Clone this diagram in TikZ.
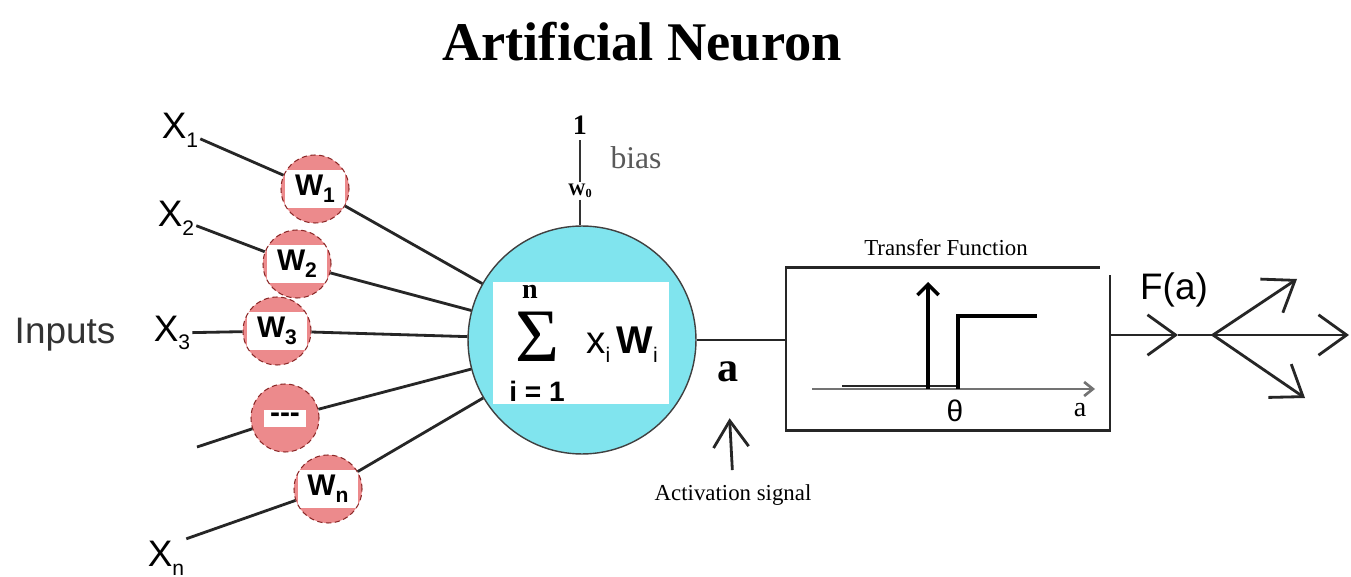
\documentclass[tikz,border=0pt]{standalone}
\usepackage{fontspec}
\setmainfont{Liberation Serif}
\setsansfont{Liberation Sans}
\usetikzlibrary{arrows.meta}

\definecolor{bodycyan}{RGB}{128,228,238}
\definecolor{wpink}{RGB}{236,138,140}
\definecolor{wred}{RGB}{140,40,40}

\newcommand{\lowidx}[1]{\raisebox{-0.45ex}{\fontsize{12}{12}\selectfont #1}}

\tikzset{
    sanslab/.style={font=\sffamily\fontsize{21}{21}\selectfont, inner sep=1pt},
    weight/.style={circle, minimum size=1.36cm, inner sep=0pt, fill=wpink, draw=wred,
        densely dashed, line width=0.6pt, font=\sffamily\bfseries\fontsize{17}{17}\selectfont,
        path picture={\fill[white] ([xshift=0.08cm,yshift=0.3cm]path picture bounding box.south west)
            rectangle ([xshift=-0.08cm,yshift=-0.3cm]path picture bounding box.north east);}},
    dotweight/.style={weight,
        path picture={\fill[white] ([xshift=-0.42cm,yshift=-0.17cm]path picture bounding box.center)
            rectangle ([xshift=0.42cm,yshift=0.17cm]path picture bounding box.center);}},
    neuron/.style={circle, minimum size=4.56cm, fill=bodycyan, draw=black!75, line width=0.8pt},
    sumbox/.style={rectangle, minimum width=3.54cm, minimum height=2.46cm, fill=white},
    wire/.style={line width=1.6pt, black!85},
    thinwire/.style={line width=1pt, black!80},
    outtip/.style={-{Straight Barb[length=16pt,width=23pt]}},
    uptip/.style={-{Straight Barb[length=15pt,width=20pt]}},
    smallserif/.style={font=\fontsize{13}{13}\selectfont, inner sep=1pt}
}

\begin{document}
\begin{tikzpicture}[x=0.02cm,y=-0.02cm]
        \useasboundingbox[fill=white] (0,0) rectangle (1351,577);

        %title
        \node[font=\bfseries\fontsize{31}{31}\selectfont] (title) at (642,42) {Artificial Neuron};

        %inputs
        \node[sanslab, text=black!80] (inputs) at (65,335) {Inputs};
        \node[sanslab] (x1) at (180,130) {X\lowidx{1}};
        \node[sanslab] (x2) at (176,218) {X\lowidx{2}};
        \node[sanslab] (x3) at (172,333) {X\lowidx{3}};
        \node[sanslab] (xn) at (166,558) {X\lowidx{n}};
        \coordinate (xd) at (197,447);

        %weights
        \node[weight] (w1) at (315,189) {W\lowidx{1}};
        \node[weight] (w2) at (297,264) {W\lowidx{2}};
        \node[weight] (w3) at (277,331) {W\lowidx{3}};
        \node[dotweight] (wd) at (285,418) {-{}-{}-};
        \node[weight] (wn) at (328,489) {W\lowidx{n}};

        %neuron
        \node[neuron] (neuron) at (582,340) {};
        \node[sumbox] (sumbox) at (581,343) {};
        \node[inner sep=0pt, font=\fontsize{43}{43}\selectfont] (sigma) at (537,337) {Σ};
        \node[font=\bfseries\fontsize{16}{16}\selectfont] (supn) at (530,292) {n};
        \node[font=\sffamily\bfseries\fontsize{16}{16}\selectfont, inner sep=1pt] (subi) at (537,391) {i = 1};
        \node[font=\sffamily\fontsize{22}{22}\selectfont] (xw) at (622,345) {x\lowidx{i}\,\textbf{W}\lowidx{i}};

        %lines
        \path[wire]
            (x1) edge (w1)
            (x2) edge (w2)
            (x3) edge (w3)
            (xd) edge (wd)
            (xn.north east) edge (wn);
        \foreach \w in {w1,w2,w3,wd,wn}
            \draw[wire] (\w) -- (neuron);

        %bias
        \node[font=\bfseries\fontsize{16}{16}\selectfont] (one) at (580,125) {1};
        \node[font=\bfseries\fontsize{10}{10}\selectfont, inner sep=1pt] (w0) at (580,191) {W\raisebox{-0.2ex}{\fontsize{7}{7}\selectfont 0}};
        \node[font=\fontsize{18}{18}\selectfont, text=black!65] (bias) at (636,158) {bias};
        \draw[thinwire] (one) -- (w0);
        \draw[thinwire] (w0) -- (w0 |- neuron.north);

        %activation
        \node[font=\bfseries\fontsize{24}{24}\selectfont] (asig) at (728,372) {a};
        \node[smallserif] (act) at (733,495) {Activation signal};
        \draw[wire, uptip, shorten <=0.25cm, shorten >=0.6cm] (act.north) -- (asig.south);
        \draw[wire] (neuron.east) -- (neuron.east -| 787,0);

        %transfer function box
        \node[minimum width=6.46cm, minimum height=3.24cm] (tf) at (948,349) {};
        \draw[line width=1.4pt, black!85] ([xshift=-0.2cm]tf.north east) -- (tf.north west)
            -- (tf.south west) -- (tf.south east) -- ([yshift=-0.14cm]tf.north east);
        \node[smallserif] (tftitle) at (946,248) {Transfer Function};

        %step plot
        \draw[line width=1.5pt, black!55, -{Straight Barb[length=5pt,width=8pt]}] (812,389) -- (1095,389);
        \draw[line width=1.5pt, black!85] (842,386) -- (958,386);
        \draw[line width=2pt, -{Straight Barb[length=6pt,width=12pt]}] (928,389) -- (928,282);
        \draw[line width=2pt] (958,389) -- (958,316) -- (1037,316);
        \node[font=\sffamily\fontsize{17}{17}\selectfont] (theta) at (955,411) {θ};
        \node[font=\fontsize{16}{16}\selectfont] (aaxis) at (1080,410) {a};

        %output
        \coordinate (fmid) at (1178,335);
        \coordinate (fork) at (1213,335);
        \coordinate (out0) at (1349,335);
        \coordinate (out1) at (1297,279);
        \coordinate (out2) at (1305,398);
        \node[sanslab] (fa) at (1174,290) {F(a)};
        \draw[wire, outtip] (fork -| tf.east) -- (fmid);
        \draw[wire] (fmid) -- (fork);
        \draw[wire, outtip] (fork) -- (out0);
        \draw[wire, outtip] (fork) -- (out1);
        \draw[wire, outtip] (fork) -- (out2);

\end{tikzpicture}
\end{document}
